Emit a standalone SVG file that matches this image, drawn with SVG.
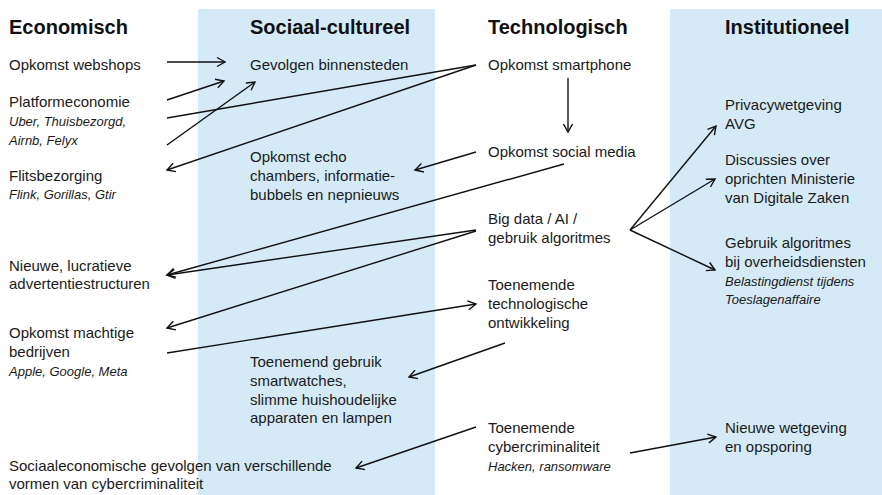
<svg xmlns="http://www.w3.org/2000/svg" width="882" height="495" viewBox="0 0 882 495">
<defs>
<style>
.t{font-family:"Liberation Sans",Arial,sans-serif;font-size:15px;fill:#1a1a1a}
.i{font-family:"Liberation Sans",Arial,sans-serif;font-size:13px;font-style:italic;fill:#1a1a1a}
.h{font-family:"Liberation Sans",Arial,sans-serif;font-size:20px;font-weight:bold;fill:#111}
.band{fill:#d4ebf7}
.c path{fill:none;stroke:#111;stroke-width:1.4}
.c path.a{marker-end:url(#ah)}
</style>
<marker id="ah" markerUnits="userSpaceOnUse" viewBox="-10 -6 12 12" refX="0" refY="0" markerWidth="12" markerHeight="12" orient="auto">
<path d="M-8,-4.5 L0,0 L-8,4.5" fill="none" stroke="#111" stroke-width="1.4"/>
</marker>
</defs>
<rect width="882" height="495" fill="#fff"/>
<rect class="band" x="198" y="9" width="237" height="486"/>
<rect class="band" x="670" y="9" width="212" height="486"/>

<g id="headings">
<text class="h" x="9" y="34">Economisch</text>
<text class="h" x="250" y="34">Sociaal-cultureel</text>
<text class="h" x="488" y="34">Technologisch</text>
<text class="h" x="725" y="34">Institutioneel</text>
</g>

<g id="webshops"><text class="t" x="9" y="70">Opkomst webshops</text></g>
<g id="platform"><text class="t" x="9" y="107">Platformeconomie</text><text class="i" x="9" y="126">Uber, Thuisbezorgd,</text><text class="i" x="9" y="145">Airnb, Felyx</text></g>
<g id="flits"><text class="t" x="9" y="181">Flitsbezorging</text><text class="i" x="9" y="199">Flink, Gorillas, Gtir</text></g>
<g id="advertentie"><text class="t" x="9" y="271">Nieuwe, lucratieve</text><text class="t" x="9" y="289">advertentiestructuren</text></g>
<g id="machtig"><text class="t" x="9" y="338">Opkomst machtige</text><text class="t" x="9" y="357">bedrijven</text><text class="i" x="9" y="376">Apple, Google, Meta</text></g>
<g id="sociaaleco"><text class="t" x="9" y="471">Sociaaleconomische gevolgen van verschillende</text><text class="t" x="9" y="489">vormen van cybercriminaliteit</text></g>

<g id="binnensteden"><text class="t" x="250" y="70">Gevolgen binnensteden</text></g>
<g id="echo"><text class="t" x="250" y="162">Opkomst echo</text><text class="t" x="250" y="181">chambers, informatie-</text><text class="t" x="250" y="200">bubbels en nepnieuws</text></g>
<g id="smartwatches"><text class="t" x="250" y="367">Toenemend gebruik</text><text class="t" x="250" y="386">smartwatches,</text><text class="t" x="250" y="405">slimme huishoudelijke</text><text class="t" x="250" y="423">apparaten en lampen</text></g>

<g id="smartphone"><text class="t" x="488" y="70">Opkomst smartphone</text></g>
<g id="socialmedia"><text class="t" x="488" y="157">Opkomst social media</text></g>
<g id="bigdata"><text class="t" x="488" y="224">Big data / AI /</text><text class="t" x="488" y="243">gebruik algoritmes</text></g>
<g id="techontw"><text class="t" x="488" y="290">Toenemende</text><text class="t" x="488" y="309">technologische</text><text class="t" x="488" y="328">ontwikkeling</text></g>
<g id="cyber"><text class="t" x="488" y="433">Toenemende</text><text class="t" x="488" y="452">cybercriminaliteit</text><text class="i" x="488" y="471">Hacken, ransomware</text></g>

<g id="privacy"><text class="t" x="725" y="110">Privacywetgeving</text><text class="t" x="725" y="129">AVG</text></g>
<g id="ministerie"><text class="t" x="725" y="165">Discussies over</text><text class="t" x="725" y="184">oprichten Ministerie</text><text class="t" x="725" y="203">van Digitale Zaken</text></g>
<g id="overheid"><text class="t" x="725" y="248">Gebruik algoritmes</text><text class="t" x="725" y="267">bij overheidsdiensten</text><text class="i" x="725" y="286">Belastingdienst tijdens</text><text class="i" x="725" y="304">Toeslagenaffaire</text></g>
<g id="wetgeving"><text class="t" x="725" y="433">Nieuwe wetgeving</text><text class="t" x="725" y="452">en opsporing</text></g>

<g id="connectors" class="c">
<path class="a" d="M167,62 L225,62"/>
<path class="a" d="M167,100 L224,81"/>
<path d="M476,65 L167,118"/>
<path class="a" d="M476,65 L167,170"/>
<path class="a" d="M167,145 L255,82"/>
<path class="a" d="M568,78 L568,132"/>
<path class="a" d="M476,152 L415,170"/>
<path class="a" d="M564,164 L167,275"/>
<path class="a" d="M476,230 L167,275"/>
<path class="a" d="M476,231 L167,328"/>
<path class="a" d="M167,353 L476,304"/>
<path class="a" d="M505,343 L409,377"/>
<path class="a" d="M476,427 L356,468"/>
<path class="a" d="M630,453 L716,437"/>
<path class="a" d="M630,230 L716,126"/>
<path class="a" d="M630,230 L715,179"/>
<path class="a" d="M630,230 L715,270"/>
</g>
</svg>
